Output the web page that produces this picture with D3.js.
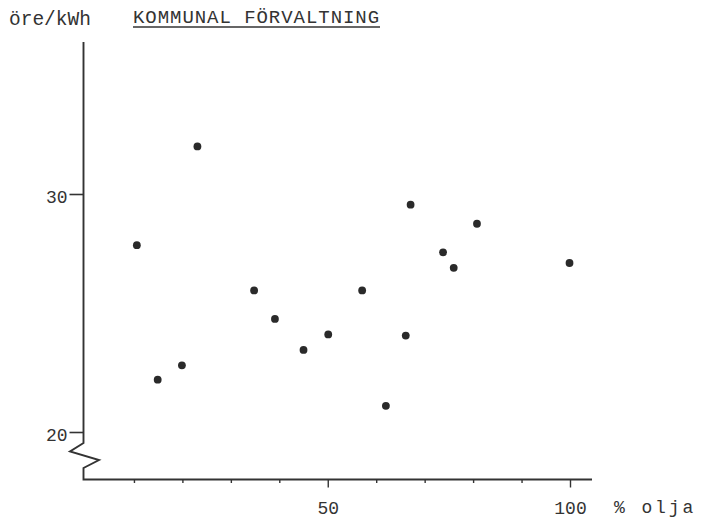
<!DOCTYPE html>
<html>
<head>
<meta charset="utf-8">
<script src="https://cdn.jsdelivr.net/npm/d3@7"></script>
<style>
  html, body { margin: 0; padding: 0; background: #fff; }
  svg { display: block; }
  text { font-family: "Liberation Mono", "DejaVu Sans Mono", monospace; fill: #333; }
</style>
</head>
<body>
<svg id="chart" width="702" height="521"></svg>
<script>
// Oil share (%) versus electricity price (öre/kWh), municipal administration
const oilShare = [10.6, 14.9, 19.9, 23.1, 34.8, 39.1, 45.0, 50.1, 57.1, 62.0, 66.1, 67.1, 73.8, 76.0, 80.8, 99.9];
const pricePerKWh = [27.85, 22.2, 22.8, 32.0, 25.95, 24.75, 23.45, 24.1, 25.95, 21.1, 24.05, 29.55, 27.55, 26.9, 28.75, 27.1];
const yTickValues = [20, 30];
const xTickValues = [10, 20, 30, 40, 50, 60, 70, 80, 90, 100];
const xLabelValues = [50, 100];

const title = "KOMMUNAL FÖRVALTNING";
const yUnit = "öre/kWh";
const xUnit = "%  olja";

const ink = "#333";
const svg = d3.select("#chart");

const x = d3.scaleLinear().domain([0, 100]).range([85.5, 570]);
const y = d3.scaleLinear().domain([20, 30]).range([432, 194]);

const axisX = 83.5, axisY = 479.5, axisTop = 42, axisRight = 592;

// y axis line with a break near the bottom
const breakTop = 443;
const axisPath = d3.path();
axisPath.moveTo(axisX, axisTop);
axisPath.lineTo(axisX, breakTop);
axisPath.lineTo(axisX - 13.5, breakTop + 8.5);
axisPath.lineTo(axisX + 15.5, breakTop + 17);
axisPath.lineTo(axisX, breakTop + 25);
axisPath.lineTo(axisX, axisY);
axisPath.lineTo(axisRight, axisY);
svg.append("path")
  .attr("d", axisPath.toString())
  .attr("fill", "none")
  .attr("stroke", ink)
  .attr("stroke-width", 1.9)
  .attr("stroke-linejoin", "miter");

// y ticks
const gy = svg.append("g")
  .attr("transform", `translate(${axisX},0)`)
  .call(d3.axisLeft(y).tickValues(yTickValues).tickSize(14).tickPadding(2).tickFormat(d3.format("d")));
gy.select(".domain").remove();
gy.selectAll(".tick line").attr("stroke", ink).attr("stroke-width", 1.6);
gy.selectAll(".tick text")
  .attr("font-size", 18)
  .attr("dy", "0.45em")
  .attr("fill", ink)
  .style("font-family", "'Liberation Mono', monospace");

// x ticks: long at labelled values, short elsewhere
const gx = svg.append("g")
  .attr("transform", `translate(0,${axisY})`)
  .call(d3.axisBottom(x).tickValues(xTickValues).tickSize(8).tickPadding(14)
    .tickFormat(d => xLabelValues.includes(d) ? d3.format("d")(d) : ""));
gx.select(".domain").remove();
gx.selectAll(".tick line")
  .attr("stroke", ink)
  .attr("stroke-width", 1.4)
  .attr("y2", d => xLabelValues.includes(d) ? 8 : 3.5);
gx.selectAll(".tick text")
  .attr("font-size", 18)
  .attr("fill", ink)
  .style("font-family", "'Liberation Mono', monospace");

// unit labels
svg.append("text")
  .attr("x", 9).attr("y", 25)
  .attr("font-size", 19.5)
  .text(yUnit);

svg.append("text")
  .attr("x", 614).attr("y", 513)
  .attr("font-size", 18)
  .attr("letter-spacing", 2.9)
  .text(xUnit);

// underlined title
svg.append("text")
  .attr("x", 133).attr("y", 23)
  .attr("font-size", 19)
  .attr("letter-spacing", 0.95)
  .text(title);
svg.append("line")
  .attr("x1", 133).attr("x2", 380)
  .attr("y1", 27).attr("y2", 27)
  .attr("stroke", ink)
  .attr("stroke-width", 1.6);

// data points
svg.append("g")
  .selectAll("circle")
  .data(oilShare.map((v, i) => ({ oil: v, price: pricePerKWh[i] })))
  .join("circle")
  .attr("cx", d => x(d.oil))
  .attr("cy", d => y(d.price))
  .attr("r", 3.9)
  .attr("fill", "#2a2a2a");
</script>
</body>
</html>
